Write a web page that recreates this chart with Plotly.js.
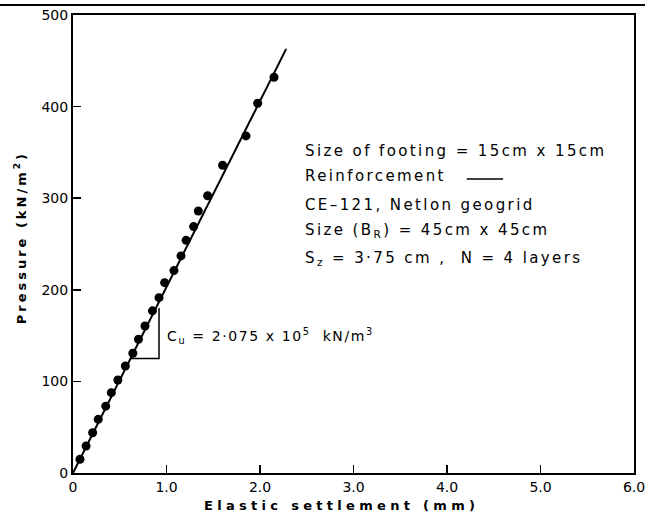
<!DOCTYPE html>
<html>
<head>
<meta charset="utf-8">
<script src="https://cdn.plot.ly/plotly-3.0.1.min.js"></script>
<style>
html,body{margin:0;padding:0;background:#fff;}
</style>
</head>
<body>
<div id="chart" style="width:645px;height:525px;"></div>
<script>
// Measured points: elastic settlement (mm) vs pressure (kN/m^2)
const settlement = [0.075,0.14,0.21,0.27,0.35,0.41,0.48,0.56,0.64,0.70,0.77,0.85,0.92,0.98,1.08,1.155,1.21,1.29,1.34,1.44,1.60,1.85,1.975,2.15];
const pressure   = [15,29.5,44,58.6,73,87.7,101.5,116.8,130.7,146,160.5,177,191.4,207.8,221,237,254,269,286,302.7,336,368,403.6,432];
// Fitted line
const fitX = [0, 2.28];
const fitY = [0, 463];
// Slope triangle
const triX = [0.616, 0.92, 0.92];
const triY = [125, 125, 180];
// Axis ticks
const xTicks = [0,1,2,3,4,5,6];
const xTickLabels = ["0","1.0","2.0","3.0","4.0","5.0","6.0"];
const yTicks = [0,100,200,300,400,500];
// Texts
const xTitle = "Elastic settlement (mm)";
const yTitle = "Pressure (kN/m<sup>2</sup>)";
const infoLines = [
  "Size of footing = 15cm x 15cm",
  "Reinforcement",
  "CE\u2013121, Netlon geogrid",
  "Size (B<sub>R</sub>) = 45cm x 45cm",
  "S<sub>z</sub> = 3\u00b775 cm ,  N = 4 layers"
];
const cuText = "C<sub>u</sub> = 2\u00b7075 x 10<sup>5</sup>  kN/m<sup>3</sup>";

const font = {family:"DejaVu Sans, sans-serif", color:"#000"};
const sp = (t, px) => '<span style="letter-spacing:' + px + 'px">' + t + '</span>';

const traces = [
  {x:fitX, y:fitY, mode:"lines", line:{color:"#000", width:2}, hoverinfo:"skip"},
  {x:triX, y:triY, mode:"lines", line:{color:"#000", width:1.5}, hoverinfo:"skip"},
  {x:settlement, y:pressure, mode:"markers", marker:{color:"#000", size:9}}
];

const infoY = [352, 324, 293, 265, 234];
const annotations = infoLines.map((t, i) => ({
  x:2.46, y:infoY[i], xref:"x", yref:"y", text:sp(t, 2.4), showarrow:false,
  xanchor:"left", yanchor:"middle", font:Object.assign({size:15}, font)
}));
annotations.push({
  x:0.98, y:150, xref:"x", yref:"y", text:sp(cuText, 1.6),
  showarrow:false, xanchor:"left", yanchor:"middle", font:Object.assign({size:14}, font)
});
annotations.push({
  x:0.478, y:-0.07, xref:"paper", yref:"paper", text:sp(xTitle, 4.3),
  showarrow:false, xanchor:"center", yanchor:"middle",
  font:Object.assign({size:13, weight:"bold"}, font)
});
annotations.push({
  x:-0.094, y:0.513, xref:"paper", yref:"paper", text:sp(yTitle, 3), textangle:-90,
  showarrow:false, xanchor:"center", yanchor:"middle",
  font:Object.assign({size:13, weight:"bold"}, font)
});

const layout = {
  width:645, height:525,
  margin:{l:73, r:11, t:15, b:52},
  paper_bgcolor:"#fff", plot_bgcolor:"#fff",
  showlegend:false,
  font:font,
  xaxis:{
    range:[0,6], tickvals:xTicks, ticktext:xTickLabels,
    ticks:"inside", ticklen:8, tickwidth:1.5, tickcolor:"#000",
    showline:true, linecolor:"#000", linewidth:2, mirror:true,
    showgrid:false, zeroline:false, ticklabeloverflow:"allow",
    tickfont:Object.assign({size:14}, font)
  },
  yaxis:{
    range:[0,500], tickvals:yTicks,
    ticks:"inside", ticklen:8, tickwidth:1.5, tickcolor:"#000",
    showline:true, linecolor:"#000", linewidth:2, mirror:true,
    showgrid:false, zeroline:false, ticklabeloverflow:"allow",
    tickfont:Object.assign({size:14}, font)
  },
  annotations:annotations,
  shapes:[
    {type:"line", xref:"x", yref:"y", x0:4.21, x1:4.60, y0:321, y1:321, line:{color:"#000", width:1.5}},
    {type:"line", xref:"paper", yref:"paper", x0:-0.14, x1:1.03, y0:1.022, y1:1.022, line:{color:"#000", width:2}}
  ]
};

Plotly.newPlot("chart", traces, layout, {displayModeBar:false, staticPlot:true});
</script>
</body>
</html>
